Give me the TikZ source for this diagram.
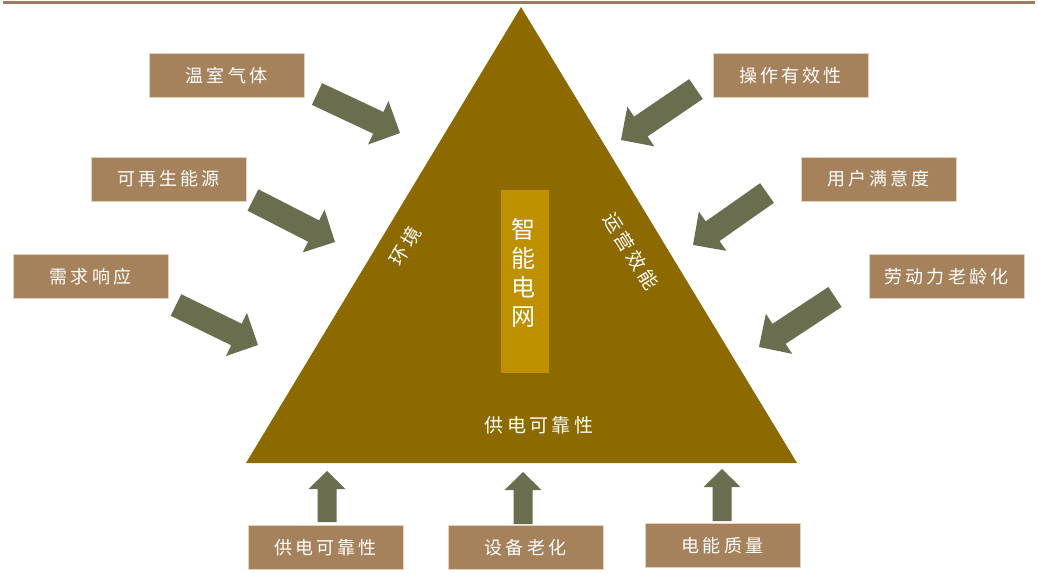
\documentclass[tikz,border=0pt]{standalone}
\usepackage{fontspec}
\newfontfamily\cjk[LetterSpace=18]{Noto Sans CJK SC}
\newfontfamily\cjkb{Noto Sans CJK SC}
\usetikzlibrary{calc}
\definecolor{boxfill}{RGB}{166,130,92}
\definecolor{boxline}{RGB}{228,210,188}
\definecolor{arrowc}{RGB}{107,110,78}
\definecolor{trifill}{RGB}{140,106,0}
\definecolor{corefill}{RGB}{191,144,0}
\definecolor{topline}{RGB}{160,122,90}
\newcommand\blockarrow[5]{%
  \coordinate (ba-b) at ($(#2)!#5!(#1)$);
  \fill[arrowc] ($(#1)!#3!90:(#2)$) -- ($(ba-b)!#3!-90:(#1)$) -- ($(ba-b)!#4!-90:(#1)$)
    -- (#2) -- ($(ba-b)!#4!90:(#1)$) -- ($(ba-b)!#3!90:(#1)$) -- ($(#1)!#3!-90:(#2)$) -- cycle;}
\begin{document}
\begin{tikzpicture}[x=1pt,y=-1pt,
  box/.style={fill=boxfill, draw=boxline, line width=0.6pt, minimum width=155pt,
    minimum height=44pt, inner sep=0pt, text=white, font=\cjk\fontsize{18}{18}\selectfont},
  tritext/.style={text=white, inner sep=0pt, font=\cjk\fontsize{19}{19}\selectfont}]
\useasboundingbox (0,0) rectangle (1038,573);
\draw[topline, line width=3pt] (3,2) -- (1035,2);
% triangle
\fill[trifill] (521,7) -- (797,463) -- (246,463) -- cycle;
\node[fill=corefill, minimum width=48pt, minimum height=183pt, inner sep=0pt] (core) at (525,281.5) {};
\node[text=white, align=center, inner sep=0pt, font=\cjkb\fontsize{24}{29}\selectfont] (sg) at (523,273) {智\\能\\电\\网};
\node[tritext, rotate=59] (env) at (405,246) {环境};
\node[tritext, rotate=-58] (ops) at (631,251) {运营效能};
\node[tritext] (rel) at (539,425) {供电可靠性};
% boxes
\node[box] (ghg) at (226.5,75.5) {温室气体};
\node[box] (ren) at (168.5,179) {可再生能源};
\node[box] (dr) at (90.5,276.5) {需求响应};
\node[box] (opx) at (790.5,75.5) {操作有效性};
\node[box] (cs) at (878.5,179) {用户满意度};
\node[box] (lab) at (946.5,276.5) {劳动力老龄化};
\node[box] (brel) at (325.5,547.5) {供电可靠性};
\node[box] (age) at (525.5,547.5) {设备老化};
\node[box] (pq) at (722.5,545.5) {电能质量};
% arrow ends
\coordinate (t1) at (317,94);  \coordinate (p1) at (400,133);
\coordinate (t2) at (253,200); \coordinate (p2) at (335,242);
\coordinate (t3) at (176,305); \coordinate (p3) at (258,345);
\coordinate (t4) at (696,89);  \coordinate (p4) at (621,140);
\coordinate (t5) at (767,193); \coordinate (p5) at (693,245);
\coordinate (t6) at (835,297); \coordinate (p6) at (759,347);
\coordinate (t7) at (327,522); \coordinate (p7) at (327,471);
\coordinate (t8) at (523,524); \coordinate (p8) at (523,472);
\coordinate (t9) at (722,521); \coordinate (p9) at (722,469);
\blockarrow{t1}{p1}{12pt}{24pt}{24pt}
\blockarrow{t2}{p2}{12pt}{24pt}{24pt}
\blockarrow{t3}{p3}{12pt}{24pt}{24pt}
\blockarrow{t4}{p4}{12pt}{24pt}{24pt}
\blockarrow{t5}{p5}{12pt}{24pt}{24pt}
\blockarrow{t6}{p6}{12pt}{24pt}{24pt}
\blockarrow{t7}{p7}{9.5pt}{18.5pt}{18pt}
\blockarrow{t8}{p8}{9.5pt}{18.5pt}{18pt}
\blockarrow{t9}{p9}{9.5pt}{18.5pt}{18pt}
\end{tikzpicture}
\end{document}
